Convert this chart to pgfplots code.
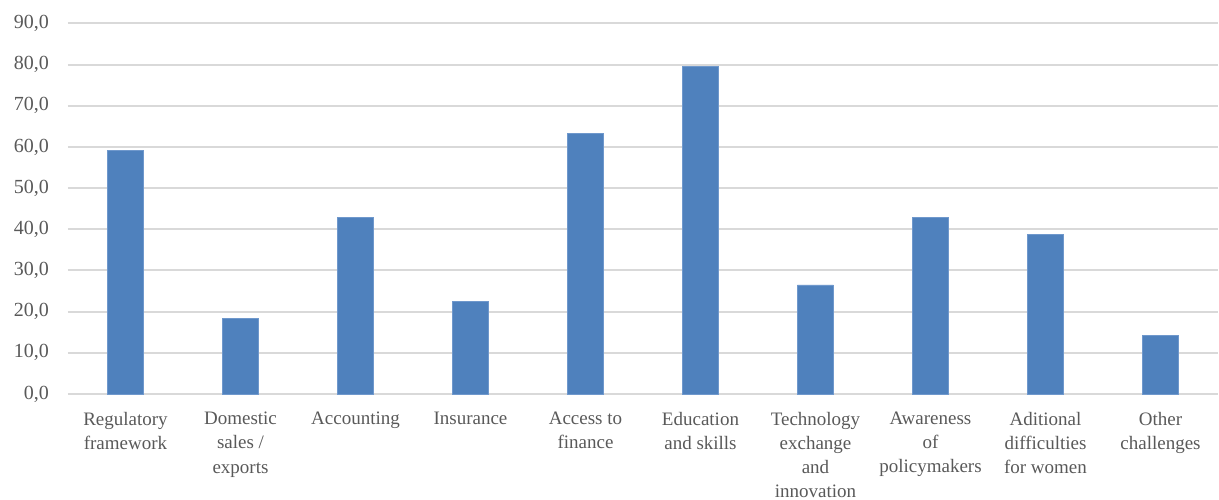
\documentclass[border=0pt]{standalone}
\usepackage{fontspec}
\setmainfont{Liberation Serif}
\usepackage{pgfplots}
\pgfplotsset{compat=1.18}
\definecolor{barblue}{HTML}{4F81BD}
\definecolor{baredge}{HTML}{6F98CC}
\definecolor{gridgray}{HTML}{D9D9D9}
\definecolor{txt}{HTML}{595959}
\begin{document}
\begin{tikzpicture}
\begin{axis}[
  scale only axis,
  width=575bp, height=185.25bp,
  xmin=-0.5, xmax=9.5, ymin=0, ymax=90,
  ytick={0,10,...,90},
  xtick=data,
  xticklabels={{Regulatory\\framework},{Domestic\\sales /\\exports},{Accounting},{Insurance},{Access to\\finance},{Education\\and skills},{Technology\\exchange\\and\\innovation},{Awareness\\of\\policymakers},{Aditional\\difficulties\\for women},{Other\\challenges}},
  xticklabel style={align=center, font=\fontsize{9.5bp}{12.1bp}\selectfont, text=txt, yshift=-5.5bp},
  yticklabel style={font=\fontsize{10bp}{12bp}\selectfont, text=txt, xshift=-6bp},
  /pgf/number format/.cd, fixed, fixed zerofill, precision=1, use comma, assume math mode=true,
  /pgfplots/.cd,
  ymajorgrids,
  major grid style={gridgray, line width=1bp},
  major tick length=0pt,
  axis line style={draw=none},
  ybar, bar width=18bp,
  clip=false,
]
\addplot[fill=barblue, draw=baredge, line width=0.4bp] coordinates {
  (0,59.2) (1,18.4) (2,42.9) (3,22.4) (4,63.3)
  (5,79.6) (6,26.5) (7,42.9) (8,38.8) (9,14.3)
};
\coordinate (ll) at (rel axis cs:0,0);
\end{axis}
\pgfresetboundingbox
\path ([shift={(-34bp,-53bp)}]ll) rectangle ([shift={(575.5bp,197bp)}]ll);
\end{tikzpicture}
\end{document}
